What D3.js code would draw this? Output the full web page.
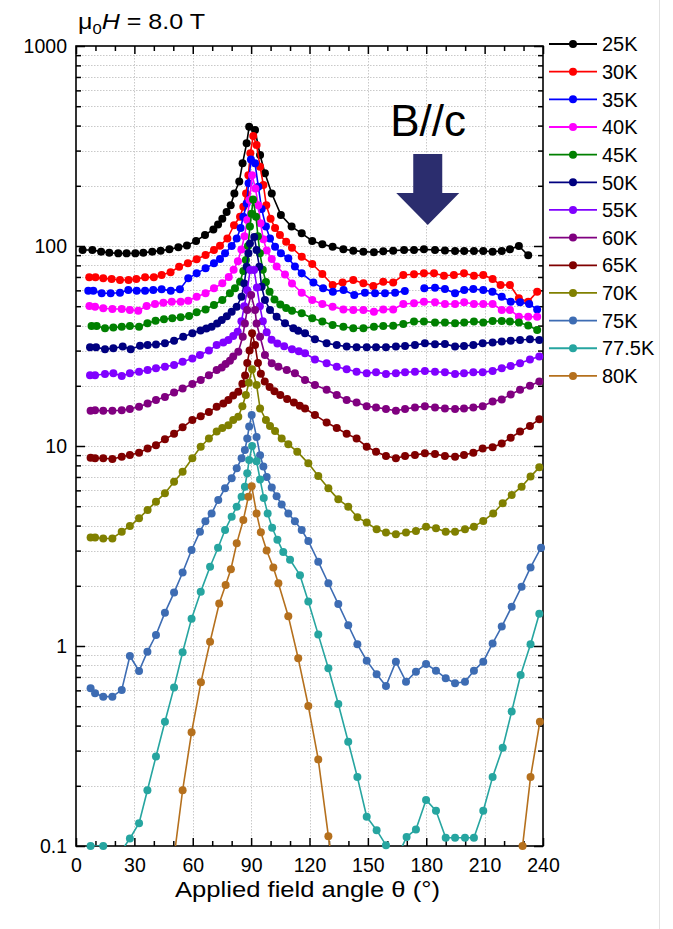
<!DOCTYPE html>
<html>
<head>
<meta charset="utf-8">
<script src="https://cdn.jsdelivr.net/npm/d3@7"></script>
<style>
  body { margin: 0; background: #fff; }
  svg { display: block; }
  text { font-family: Arial, "Liberation Sans", Helvetica, sans-serif; fill: #000; }
</style>
</head>
<body>
<svg id="chart" width="673" height="929"></svg>
<script>
// Angle-dependent resistance at 8 T, one curve per temperature.
const temps = ["25K", "30K", "35K", "40K", "45K", "50K", "55K", "60K", "65K", "70K", "75K", "77.5K", "80K"];
const colors = ["#000000", "#ff0000", "#0000ff", "#ff00ff", "#008000", "#000080", "#8000ff",
                "#800080", "#800000", "#808000", "#3d6cb3", "#26a5a0", "#b5701d"];

const xTickValues = [0, 30, 60, 90, 120, 150, 180, 210, 240];
const yTickValues = [0.1, 1, 10, 100, 1000];
const yTickLabels = ["0.1", "1", "10", "100", "1000"];

// [angle (deg), value]
const t25 = [[3.4,95.5],[8.4,95.5],[12.9,93.7],[17.1,92.6],[21.7,91.9],[26,91.9],[30.5,91.9],[34.6,92.6],[39.2,93.7],[43.5,94.8],[48,96.2],[52.6,98.5],[57,100.7],[61.7,106],[66.3,113.5],[70.6,121],[73,128],[75.2,137],[77.4,148],[79.5,160],[81.4,183],[83.9,210],[85.6,259],[87.7,326],[89,395],[92,380],[94.6,285],[97.1,231],[100.6,183],[105.3,143],[110.8,125],[116,115.7],[121.4,106],[126.6,102],[131.9,99],[137.4,96.3],[142.5,94.8],[147.7,93.7],[153.1,93],[157.9,94],[163,94.8],[168.6,95.5],[173.7,95.5],[178.8,96.2],[184.5,95.5],[189.6,95],[194.8,94.4],[199.5,94.4],[204.5,94.4],[209.3,94.4],[214.1,93.7],[218.8,94.4],[223,96.3],[227.6,100],[232.4,89.8]];

const t30 = [[6.8,69.7],[10,69.7],[14,68.9],[18.3,68.4],[22.6,67.6],[27,67.6],[31,68.4],[35.5,69.7],[40,69.7],[44,71.6],[48.6,73.9],[53,78.8],[57.5,81.9],[62,85.8],[66.6,90.2],[70.9,95.5],[74,100.4],[77.8,109],[81.2,127],[84.3,140],[86,157],[87.4,183],[88.6,226],[89.6,291],[91.1,355],[92.8,320],[94.6,249],[96.3,202],[97.8,160],[100,137],[102.3,123],[104.8,113.5],[108,105],[111,98],[116,88.4],[121.4,81.3],[126.6,72.4],[131.9,63.8],[137,65.6],[142.5,67.6],[147.7,65.1],[152.8,63.1],[157.9,66.3],[163,65.6],[168.2,71.6],[173.7,72.2],[178.8,73],[184,73],[189.1,71],[194.2,71.6],[199.4,73],[204.5,71],[209.3,71.6],[214.1,68.4],[218.2,63.8],[223,63.8],[227.6,54.8],[232.4,52.7],[237,59.1]];

const t35 = [[6.3,59.8],[8.9,59.8],[13.2,58],[17.8,58],[22.6,58.4],[26.9,60.3],[31.2,59.8],[35.5,59.8],[39.7,60.3],[44,60.7],[48.7,59.8],[53.4,60.7],[57.7,68.9],[62,73],[66.6,77.3],[70.9,81.9],[74,86],[76.6,92],[80,100],[82.6,109],[84.6,123],[86,140],[87.7,163],[88.7,206],[89.9,271],[92,259],[93.7,198],[95.4,153],[97.6,125],[99.7,109],[102.3,99.2],[105.3,92],[109.1,86.8],[112.5,79],[116,73],[122,65.6],[127,61.4],[132,59.1],[137.5,60.3],[143,56.9],[148.5,58.4],[153.7,58],[158.8,58],[164,58.4],[169,59.6],[174,null],[179,61.4],[184.5,61.9],[189.6,61],[194.8,58],[199.5,60.3],[204.2,61],[209.3,60.3],[214,59.1],[218.8,55.8],[223.4,52.7],[228.2,52.3],[232.9,51.3],[237,48.2]];

const t40 = [[6.9,50.1],[9.8,49.7],[14,48.8],[18.7,48.4],[23.5,48.4],[27.7,47.9],[32,47.5],[36.3,50.1],[40.6,51.3],[44.9,52.1],[49.2,52.7],[53.8,52.7],[57.7,53.3],[62,55.8],[66.6,58],[70.9,61.4],[75.2,65.1],[78.5,70],[81,76],[83.2,84],[85,96],[86.6,112],[88,135],[89.2,170],[90.5,226],[92.2,194],[93.7,160],[94.8,130],[96.3,108],[98,95],[100.6,86],[103.1,79],[107.4,72],[111,65],[116,58.4],[121.4,53.7],[126.6,51.3],[131.9,49.7],[137.4,48.2],[142.5,47.9],[147.7,47.9],[153.1,46.9],[157.9,48.2],[163,48.2],[168.2,51.3],[173.7,51.7],[178.8,52.7],[184.5,52.3],[189.6,51.3],[194.8,51.3],[199.5,52.3],[204.5,51.3],[209.3,51.3],[214.1,51.3],[218.8,47.9],[223,47.9],[227.6,44.3],[232.4,44.3],[237,44.3]];

const t45 = [[8,39.8],[10.6,39.8],[14.9,38.8],[19.2,39.1],[23.5,39.5],[27.7,39.8],[32.4,39.5],[36.7,41.1],[40.9,42.3],[45.2,43],[49.5,43.5],[53.8,44],[58.1,44.7],[62,46.6],[66.6,48.2],[70.9,50.7],[75.2,53.7],[79.1,58],[81.7,61.4],[84.3,66.3],[86,75],[87.3,85],[88.4,100],[89.4,125],[90.2,145],[91,171],[92.5,140],[93.5,112],[94.5,92],[96,76],[97.6,66],[99.5,59],[102,54],[105,51],[108,49],[111,47.5],[116,46.1],[121.4,43.5],[126.6,41.9],[131.9,40.3],[137.4,39.5],[142.5,38.8],[147.7,38.8],[153.1,39.5],[157.9,39.8],[163,39.9],[168.2,40.7],[173.7,41.9],[178.8,41.9],[184.5,41.4],[189.6,41.4],[194.8,41.1],[199.5,41.4],[204.5,41.9],[209.3,41.4],[214.1,42.2],[218.8,42.2],[223,41.9],[227.6,41.4],[232.4,40],[237,38]];

const t50 = [[7.2,31.2],[10.3,31.2],[14.9,30.5],[19.2,30.8],[24,31.4],[28.1,30.5],[32.9,31.7],[36.8,32],[41.1,32.2],[45.7,32.6],[50.4,33.6],[55.1,35.2],[59.8,36.6],[64,37.8],[67,38.7],[69.7,39.5],[72.5,41],[74.9,42.7],[77.5,44.5],[80,46.9],[82.6,49.7],[85.1,55.8],[86.5,65],[87.7,78.8],[88.6,92],[89.4,103],[91.6,111],[92.8,95.5],[94.2,78.8],[95.4,62.6],[97.1,53.7],[99.7,47.9],[103.1,44.3],[107.4,41.1],[111.7,38.8],[114.2,37.7],[117.7,36.6],[122.8,34.2],[128.8,32.6],[134,32],[139.1,31.4],[144.2,31.2],[149.4,31.2],[154.2,31.2],[159.3,31.2],[164.4,31.4],[169.1,31.6],[174.2,32],[179.3,32.6],[184.5,32.3],[189.6,32.4],[194.8,31.4],[199.4,31.6],[204.2,32],[209,32.6],[214.1,32.9],[218.8,33.3],[223.4,33.6],[228.2,33.9],[233.3,34.2],[238.1,33.9]];

const t55 = [[7.2,22.6],[9.8,22.6],[14.9,22.9],[19.2,23.1],[23.5,22.4],[27.7,23.1],[32.4,23.5],[36.8,24],[41.1,24.5],[45.7,24.9],[50.4,25.4],[54.8,26.4],[59.8,27.4],[63.7,28.5],[68.3,30],[72.3,32],[75.7,32.9],[78.3,33.9],[80.8,35.5],[83.1,37.3],[85,42],[86.5,50],[88,60],[89.5,75.9],[91.5,75.9],[93,62],[94.5,50],[96,42],[98,37],[100.5,34],[103.5,32.5],[107,31.5],[111,30.5],[114.5,29.8],[117.7,29.1],[122.8,27.1],[128.8,25.9],[134,24.9],[139.1,24.2],[144.2,23.5],[149.4,23.1],[154.2,23.4],[159.3,22.9],[164.4,23.1],[169.1,23.4],[174.2,23.5],[179.3,23.7],[184.5,23.5],[189.6,23.4],[194.8,22.9],[199.4,23.1],[204.2,23.4],[209,23.4],[214.1,23.7],[218.8,24.5],[223.4,25.1],[228.2,25.9],[233.3,27.1],[238.1,28]];

const t60 = [[7.5,15],[9.8,15.1],[14,15],[18.7,15],[23.5,15.1],[27.7,15.3],[32.4,15.7],[36.8,16.3],[41.1,17],[45.7,17.6],[50.4,18.5],[54.8,19.4],[59.8,20.4],[64.1,21.4],[68.3,22.6],[72.3,24],[74.9,24.7],[76.9,25.7],[79.1,26.7],[80.8,28],[83.4,29.6],[85.7,35.2],[86.8,41],[88,47.9],[90,56.9],[92,47.9],[92.8,41],[94.6,35.2],[97.1,28.5],[100.6,25.9],[104,24.9],[108.3,24],[112.5,23.1],[117.7,21.4],[122.8,20.2],[128.8,19.1],[134,18],[139.1,17],[144.2,16.5],[149.4,15.8],[154.2,15.6],[159.3,15.3],[164.4,15],[169.1,15.3],[174.2,15.6],[179.3,15.8],[184.5,15.6],[189.6,15.4],[194.8,15.3],[199.4,15.4],[204.2,15.6],[209,15.8],[214.1,16.7],[218.8,17.1],[223.4,18.1],[228.2,19.1],[233.3,20],[238.1,21]];

const t65 = [[7.5,8.74],[9.8,8.68],[14,8.68],[18.7,8.61],[23.5,8.84],[27.7,9.02],[32.4,9.26],[36.8,9.73],[41.1,10.1],[45.7,10.8],[50.4,11.5],[54.8,12.4],[59.8,13.5],[64.1,14.1],[68.3,14.8],[72.3,15.7],[75.7,16.3],[78.3,17],[80.8,17.9],[83.4,18.7],[85.5,20.5],[86.9,22.5],[88,26],[89.2,30],[90.5,36.6],[92,32],[93.5,26],[95,23],[97,21],[99.5,19.7],[102,18.8],[105,18],[108.5,17.2],[112,16.5],[115,15.9],[117.7,15.4],[122.8,14.3],[128.8,13.1],[134,12.3],[139.1,11.5],[144.2,10.9],[149.4,9.92],[154.2,9.37],[159.3,8.91],[164.4,8.68],[169.1,8.91],[174.2,9.02],[179.3,9.19],[184.5,9.12],[189.6,8.91],[194.8,8.84],[199.4,9.02],[204.2,9.26],[209,9.73],[214.1,9.85],[218.8,10.3],[223.4,11],[228.2,11.8],[233.3,12.6],[238.1,13.6]];

const t70 = [[7.5,3.49],[9.8,3.49],[14,3.45],[18.7,3.45],[23.5,3.73],[27.7,3.98],[32.4,4.35],[36.8,4.79],[41.1,5.27],[45.7,5.8],[50.4,6.63],[54.8,7.44],[59.8,8.68],[64.1,9.92],[68.3,10.9],[72.3,11.8],[75.2,12.3],[78.3,12.7],[80.8,13.5],[83.4,14],[85.5,15.8],[87.3,18],[88.8,20.7],[90.5,24.2],[92.8,20.2],[94.6,15.4],[97.6,13.5],[99.7,12.6],[102.3,11.9],[105.7,10.9],[109.1,10.2],[113.7,9.37],[119.4,8.19],[124.5,7.08],[129.7,6.14],[134.8,5.41],[139.9,4.97],[144.6,4.4],[149.4,4.14],[154.5,3.83],[159.3,3.69],[164.4,3.62],[169.6,3.69],[174.7,3.76],[179.9,3.95],[185,3.88],[190,3.73],[194.8,3.73],[199.9,3.83],[204.5,3.95],[209.3,4.22],[214.4,4.6],[219.3,5.17],[223.9,5.69],[229,6.26],[233.6,7.03],[238.1,7.82]];

const t75 = [[7.5,0.614],[9.8,0.58],[14,0.558],[18.7,0.558],[23.5,0.603],[27.7,0.891],[32.4,0.75],[36.7,0.937],[41.1,1.135],[45.7,1.468],[50.4,1.849],[54.8,2.33],[59.4,3.02],[63.7,3.73],[66.5,4.2],[69.7,4.6],[73.1,5.37],[76.6,6.14],[80,6.9],[82.6,7.73],[85.1,8.68],[86.8,9.55],[88,10.9],[89,12.5],[90.3,14.3],[92.8,11.1],[94.6,9],[96.3,7.9],[98,7],[100.6,6.2],[103.1,5.6],[105.7,5.1],[109.1,4.6],[112.5,4.2],[116,3.8],[119.4,3.35],[124.5,2.64],[129.7,2.06],[134.8,1.62],[139.9,1.27],[144.6,1.02],[149.4,0.845],[154.5,0.722],[159.3,0.631],[164.4,0.835],[169.6,0.663],[174.7,0.744],[179.9,0.813],[185,0.753],[190,0.69],[194.8,0.651],[199.9,0.663],[204.5,0.753],[209.3,0.835],[214.1,1.03],[218.8,1.25],[223.9,1.57],[229,1.98],[233.6,2.47],[239,3.1]];

const t775 = [[7.5,0.1],[14,0.1],[18.7,0.092],[23.5,0.095],[27.7,0.109],[32.4,0.13],[36.7,0.19],[41.1,0.28],[45.7,0.418],[50.4,0.621],[54.8,0.93],[59.4,1.37],[64.1,1.87],[68.9,2.49],[73,3.1],[76.6,3.8],[80,4.43],[82.6,4.97],[85.1,5.58],[86.8,6.26],[88,7.3],[89,8.51],[90.5,10],[92.8,8.4],[94.6,6.8],[96.5,5.5],[98.5,4.6],[100.8,3.9],[103.5,3.4],[106.5,2.95],[110,2.7],[115.1,2.26],[119.4,1.67],[124.5,1.14],[129.7,0.774],[134.8,0.513],[139.9,0.332],[144.6,0.221],[149.4,0.14],[154.5,0.12],[159.3,0.101],[164.4,0.085],[169.9,0.111],[174.7,0.121],[179.9,0.17],[185,0.15],[190,0.11],[194.8,0.11],[199.9,0.11],[204.5,0.11],[209.3,0.15],[214.1,0.221],[219.3,0.31],[223.9,0.47],[228.5,0.716],[233.6,1.02],[238.1,1.45]];

const t80 = [[50.2,0.085],[54.8,0.19],[59.4,0.37],[64.2,0.658],[68.9,1.05],[73.6,1.63],[76.9,2.02],[79.6,2.42],[82.6,3.26],[86,4.27],[88.6,5.58],[90.3,6.3],[92.8,4.6],[95,3.7],[98,3.0],[101.4,2.47],[104,2.06],[109.1,1.41],[114.2,0.868],[119.4,0.501],[124.5,0.271],[129.7,0.112],[134.8,0.05],[224,0.05],[229.5,0.1],[233.6,0.221],[238.4,0.418]];

const seriesData = [t25, t30, t35, t40, t45, t50, t55, t60, t65, t70, t75, t775, t80];

// ---------------------------------------------------------------------------
const W = 673, H = 929;
const svg = d3.select("#chart");

const x = d3.scaleLinear().domain([0, 240]).range([76, 543]);
const y = d3.scaleLog().domain([0.1, 1000]).range([846, 46]);
const [xL, xR] = x.range();
const [yB, yT] = y.range();

svg.append("rect").attr("width", W).attr("height", H).attr("fill", "#fff");

// thin page edge on the right
svg.append("line")
  .attr("x1", 659.5).attr("x2", 659.5).attr("y1", 0).attr("y2", H)
  .attr("stroke", "#e2e2e2").attr("stroke-width", 1);

// dotted grid
const xMinor = d3.range(0, 241, 10);
const yAll = [];
[-1, 0, 1, 2].forEach(e => { for (let m = 1; m <= 9; m++) yAll.push(m * Math.pow(10, e)); });
yAll.push(1000);
const yGrid = yAll.filter(v => v > 0.1 + 1e-9 && v < 1000 - 1e-6);
const yMinor = yAll.filter(v => !yTickValues.some(t => Math.abs(t - v) < 1e-9));

const grid = svg.append("g")
  .attr("stroke", "#c9c9c9").attr("stroke-width", 1).attr("stroke-dasharray", "1.5,1.5");
grid.selectAll("line.gx").data(xTickValues.slice(1, -1)).join("line")
  .attr("x1", d => Math.round(x(d)) + 0.5).attr("x2", d => Math.round(x(d)) + 0.5)
  .attr("y1", yT).attr("y2", yB);
grid.selectAll("line.gy").data(yGrid).join("line")
  .attr("x1", xL).attr("x2", xR)
  .attr("y1", d => Math.round(y(d)) + 0.5).attr("y2", d => Math.round(y(d)) + 0.5);

// axes (ticks point inward on all four sides)
function styleAxis(g) {
  g.select(".domain").remove();
  g.selectAll(".tick line").attr("stroke", "#000").attr("stroke-width", 1.5);
  g.selectAll(".tick text").attr("font-size", 19.5).attr("fill", "#000")
    .attr("font-family", "Arial, 'Liberation Sans', sans-serif");
}
const xMinorOnly = xMinor.filter(d => d % 30 !== 0);

svg.append("g").attr("transform", `translate(0,${yB})`)
  .call(d3.axisBottom(x).tickValues(xTickValues).tickSize(-8).tickPadding(12).tickFormat(d3.format("d")))
  .call(styleAxis);
svg.append("g").attr("transform", `translate(0,${yB})`)
  .call(d3.axisBottom(x).tickValues(xMinorOnly).tickSize(-5).tickFormat(""))
  .call(styleAxis);
svg.append("g").attr("transform", `translate(0,${yT})`)
  .call(d3.axisTop(x).tickValues(xTickValues).tickSize(-8).tickFormat(""))
  .call(styleAxis);
svg.append("g").attr("transform", `translate(0,${yT})`)
  .call(d3.axisTop(x).tickValues(xMinorOnly).tickSize(-5).tickFormat(""))
  .call(styleAxis);

svg.append("g").attr("transform", `translate(${xL},0)`)
  .call(d3.axisLeft(y).tickValues(yTickValues).tickSize(-9).tickPadding(9)
    .tickFormat((d, i) => yTickLabels[i]))
  .call(styleAxis);
svg.append("g").attr("transform", `translate(${xL},0)`)
  .call(d3.axisLeft(y).tickValues(yMinor).tickSize(-5).tickFormat(""))
  .call(styleAxis);
svg.append("g").attr("transform", `translate(${xR},0)`)
  .call(d3.axisRight(y).tickValues(yTickValues).tickSize(-9).tickFormat(""))
  .call(styleAxis);
svg.append("g").attr("transform", `translate(${xR},0)`)
  .call(d3.axisRight(y).tickValues(yMinor).tickSize(-5).tickFormat(""))
  .call(styleAxis);

svg.append("rect")
  .attr("x", xL).attr("y", yT).attr("width", xR - xL).attr("height", yB - yT)
  .attr("fill", "none").attr("stroke", "#000").attr("stroke-width", 1.6);

// curves
svg.append("clipPath").attr("id", "plotArea")
  .append("rect").attr("x", xL).attr("y", yT).attr("width", xR - xL).attr("height", yB - yT);

const line = d3.line()
  .defined(d => d[1] != null)
  .x(d => x(d[0])).y(d => y(d[1]));

const curves = svg.append("g");
seriesData.forEach((data, i) => {
  const g = curves.append("g");
  g.append("path")
    .attr("d", line(data))
    .attr("clip-path", "url(#plotArea)")
    .attr("fill", "none").attr("stroke", colors[i]).attr("stroke-width", 1.6)
    .attr("stroke-linejoin", "round");
  g.selectAll("circle")
    .data(data.filter(d => d[1] != null && d[1] >= 0.0995))
    .join("circle")
    .attr("cx", d => x(d[0])).attr("cy", d => y(d[1])).attr("r", 4)
    .attr("fill", colors[i]);
});

// legend
const legend = svg.append("g");
temps.forEach((t, i) => {
  const ly = 44 + 27.66 * i;
  legend.append("line").attr("x1", 549).attr("x2", 597).attr("y1", ly).attr("y2", ly)
    .attr("stroke", colors[i]).attr("stroke-width", 1.8);
  legend.append("circle").attr("cx", 573).attr("cy", ly).attr("r", 4).attr("fill", colors[i]);
  legend.append("text").attr("x", 602).attr("y", ly).attr("dy", "0.36em")
    .attr("font-size", 20).text(t);
});

// field label
const title = svg.append("text").attr("x", 78).attr("y", 29).attr("font-size", 22.5)
  .attr("textLength", 127).attr("lengthAdjust", "spacingAndGlyphs");
title.append("tspan").text("\u03bc");
title.append("tspan").attr("font-size", 15).attr("dy", 5).text("0");
title.append("tspan").attr("font-style", "italic").attr("dy", -5).text("H");
title.append("tspan").text(" = 8.0 T");

// field direction marker at 180 deg
const ax = x(180);
svg.append("text").attr("x", ax - 36).attr("y", 136).attr("font-size", 44).text("B//c");
svg.append("path")
  .attr("d", `M${ax - 13},154 L${ax + 16},154 L${ax + 16},193 L${ax + 33},193 L${ax + 1.5},225 L${ax - 30},193 L${ax - 13},193 Z`)
  .attr("fill", "#2b2d6e");

// axis title
svg.append("text").attr("x", 175).attr("y", 897)
  .attr("font-size", 22.5).attr("textLength", 265).attr("lengthAdjust", "spacingAndGlyphs")
  .text("Applied field angle \u03b8 (\u00b0)");
</script>
</body>
</html>
